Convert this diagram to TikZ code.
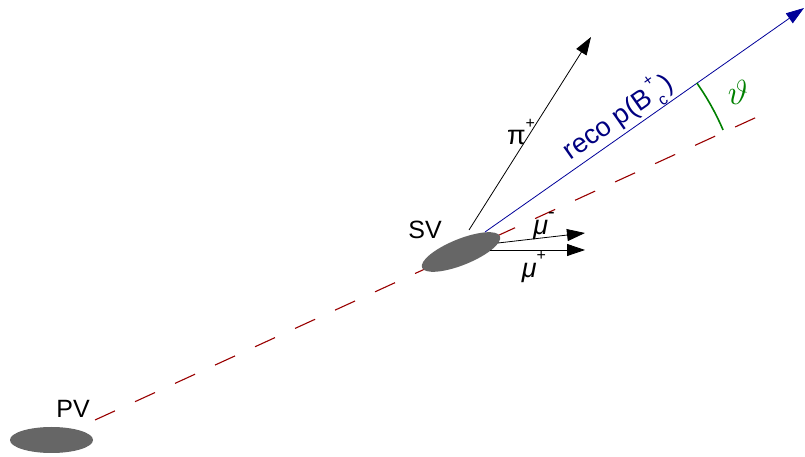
\documentclass[tikz,border=0pt]{standalone}
\usepackage{graphicx}
\usepackage{fontspec}
\setmainfont{Liberation Sans}
\usetikzlibrary{arrows.meta,shapes.geometric,calc}
\definecolor{vtxgray}{HTML}{666666}
\definecolor{recoblue}{HTML}{000099}
\definecolor{recotext}{HTML}{000080}
\definecolor{flightred}{HTML}{990000}
\definecolor{anglegreen}{HTML}{008000}
\newcommand{\supr}[1]{\raisebox{0.6em}{\fontsize{16}{18}\selectfont #1}}
\begin{document}
\begin{tikzpicture}[x=1pt,y=1pt,
  vertex/.style={ellipse,fill=vtxgray,draw=none,inner sep=0pt},
  lbl/.style={font=\fontsize{25}{29}\selectfont,inner sep=0pt},
  glbl/.style={font=\fontsize{27}{31}\selectfont,inner sep=0pt},
  track/.style={line width=0.8pt,-{Triangle[length=18pt,width=12pt]}},
  flight/.style={flightred,line width=1.1pt,dash pattern=on 22pt off 22pt}]
\useasboundingbox (0,0) rectangle (805,457);
% flight direction (dashed)
\coordinate (fstart) at (95,37);
\coordinate (fend) at (757,340);
\draw[flight] (fstart) -- (fend);
% vertices
\node[vertex,minimum width=83pt,minimum height=26pt] (pv) at (51.5,17) {};
\node[vertex,minimum width=84pt,minimum height=26pt,rotate=22] (sv) at (461,205) {};
\node[lbl] (pvlbl) at (73,48) {PV};
\node[lbl] (svlbl) at (425,227) {SV};
% tracks
\coordinate (pistart) at (469,227);
\coordinate (pitip) at (591,420);
\draw[track,black] (pistart) -- (pitip);
\node[glbl] (pilbl) at (521,325) {π\supr{+}};
\coordinate (bstart) at (485,225);
\coordinate (btip) at (804,449);
\draw[track,recoblue] (bstart) -- (btip);
\node[glbl,recotext,rotate=35] (blbl) at (618,340) {reco p(B\rlap{\raisebox{-0.3em}{\fontsize{16}{18}\selectfont\;c}}\supr{\,+}\,)};
\coordinate (mumstart) at (498,214);
\coordinate (mumtip) at (585,224);
\draw[track,black] (mumstart) -- (mumtip);
\node[glbl] (mumlbl) at (544,231) {\textit{μ}\supr{\fontsize{20}{20}\selectfont -}};
\coordinate (mupstart) at (490,207);
\coordinate (muptip) at (585,207);
\draw[track,black] (mupstart) -- (muptip);
\node[glbl] (muplbl) at (534,190) {\textit{μ}\supr{+}};
% angle
\coordinate (arcstart) at ($(bstart)+(35.1:259)$);
\draw[anglegreen,line width=1.6pt] (arcstart) arc[start angle=35.1,end angle=23.2,radius=259pt];
\node[lbl,anglegreen] (theta) at (738,365) {\scalebox{1.4}{$\vartheta$}};
\end{tikzpicture}
\end{document}
